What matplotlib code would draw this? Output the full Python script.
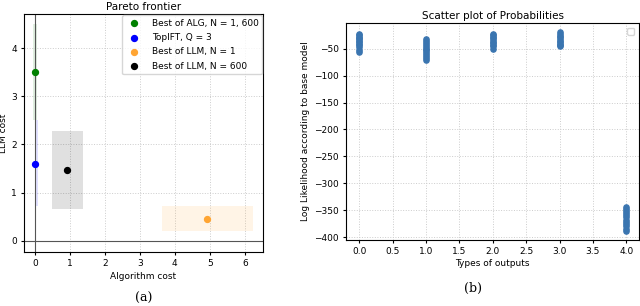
import numpy as np
import matplotlib
matplotlib.use("Agg")
import matplotlib.pyplot as plt
from matplotlib.patches import Rectangle

plt.rcParams.update({'font.size': 6.5,
                     'xtick.major.size': 2.5, 'ytick.major.size': 2.5,
                     'xtick.major.pad': 2.5, 'ytick.major.pad': 2.5})

# panel (a): Pareto frontier
labels = ['Best of ALG, N = 1, 600', 'TopIFT, Q = 3', 'Best of LLM, N = 1', 'Best of LLM, N = 600']
colors = ['green', 'blue', '#ffa533', 'black']
alg_cost = [0.0, 0.0, 4.92, 0.92]
llm_cost = [3.5, 1.6, 0.46, 1.47]
# error boxes: (x_lo, x_hi, y_lo, y_hi)
boxes = [(-0.05, 0.05, 2.5, 4.5), (0.0, 0.1, 0.72, 2.5), (3.64, 6.24, 0.2, 0.72), (0.5, 1.38, 0.65, 2.28)]
box_alpha = [0.12, 0.12, 0.12, 0.12]

# panel (b): scatter of log likelihoods
types = [0, 1, 2, 3, 4]
loglik = [
    [-22, -25, -28, -30, -33, -36, -38, -41, -44, -47, -52, -56],
    [-32, -36, -40, -44, -47, -50, -53, -56, -60, -64, -68, -72],
    [-22, -25, -28, -31, -34, -37, -40, -43, -46, -50],
    [-20, -23, -26, -29, -32, -35, -38, -41, -44, -46],
    [-343, -347, -351, -355, -359, -363, -367, -371, -375, -379, -384, -388],
]

fig = plt.figure(figsize=(6.4, 3.06), dpi=100)
ax1 = fig.add_axes([24/640, 1-252/306, 239/640, 238/306])
ax2 = fig.add_axes([346/640, 1-240/306, 293/640, 217/306])

ax1.axhline(0, color='#555555', lw=0.8, zorder=2.5)
ax1.axvline(0, color='#555555', lw=0.8, zorder=2.5)
for i in range(4):
    x0, x1, y0, y1 = boxes[i]
    ax1.add_patch(Rectangle((x0, y0), x1-x0, y1-y0, color=colors[i], alpha=box_alpha[i], lw=0, zorder=2))
    ax1.scatter(alg_cost[i], llm_cost[i], color=colors[i], s=18, label=labels[i], zorder=3)
ax1.set_xlim(-0.31, 6.52)
ax1.set_ylim(-0.235, 4.71)
ax1.set_xticks([0, 1, 2, 3, 4, 5, 6])
ax1.set_yticks([0, 1, 2, 3, 4])
ax1.grid(True, linestyle=':', color='#cccccc', lw=0.7)
ax1.set_xlabel('Algorithm cost', labelpad=3)
ax1.set_ylabel('LLM cost')
ax1.yaxis.set_label_coords(-0.068, 0.5)
ax1.set_title('Pareto frontier', fontsize=7.5, pad=3)
ax1.legend(loc='upper right', bbox_to_anchor=(1.0, 1.0), borderaxespad=0.1, fontsize=6.5,
           handletextpad=0.9, borderpad=0.4, labelspacing=0.6)

for t, vals in zip(types, loglik):
    ax2.scatter([t]*len(vals), vals, color='#3a75b0', s=14, zorder=3)
ax2.set_xlim(-0.2, 4.19)
ax2.set_ylim(-405, -2.5)
ax2.set_yticks([-50, -100, -150, -200, -250, -300, -350, -400])
ax2.set_xticks(np.arange(0, 4.01, 0.5))
ax2.grid(True, linestyle=':', color='#cccccc', lw=0.7)
ax2.set_xlabel('Types of outputs', labelpad=2)
ax2.set_ylabel('Log Likelihood according to base model', labelpad=3)
ax2.set_title('Scatter plot of Probabilities', fontsize=7.5, pad=3)
ax2.legend(loc='upper right')

fig.text(144/640, 1-298/306, '(a)', family='DejaVu Serif', fontsize=9, ha='center', va='center')
fig.text(473/640, 1-288/306, '(b)', family='DejaVu Serif', fontsize=9, ha='center', va='center')

fig.savefig('out.png', dpi=100)
